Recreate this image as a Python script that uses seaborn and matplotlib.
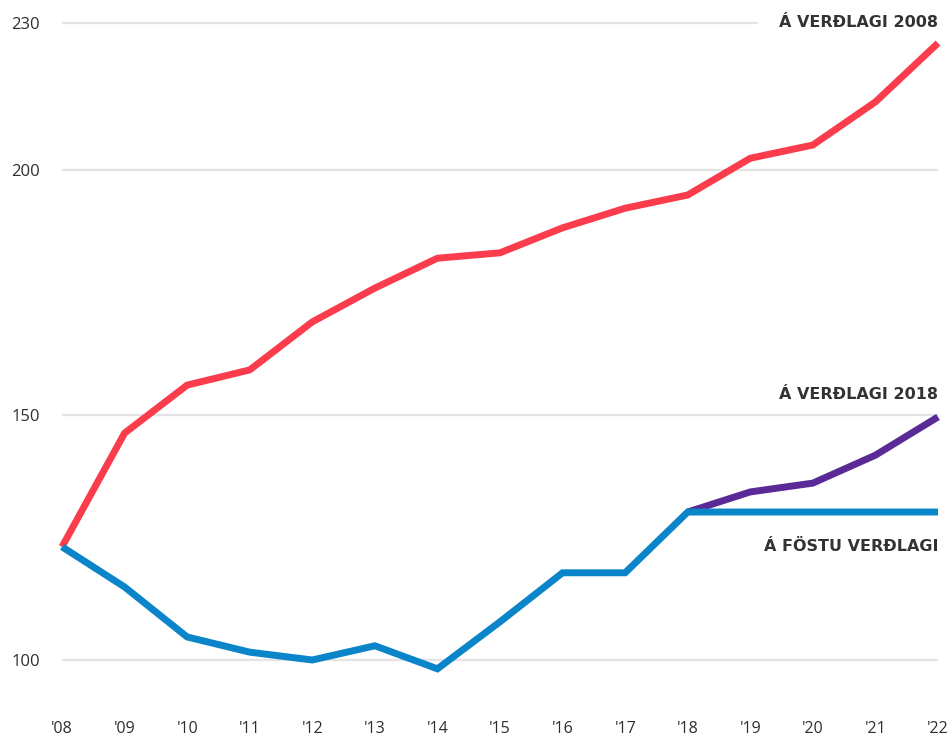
import pandas as pd
import matplotlib.pyplot as plt
import seaborn as sns

years = list(range(2008, 2023))
tick_labels = ["'08", "'09", "'10", "'11", "'12", "'13", "'14", "'15",
               "'16", "'17", "'18", "'19", "'20", "'21", "'22"]

# index values
verdlag_2008 = [123.1, 146.3, 156.1, 159.2, 169.0, 175.9, 182.0, 183.1,
                188.2, 192.2, 194.9, 202.4, 205.1, 213.9, 225.9]
fast_verdlag = [123.1, 114.9, 104.7, 101.6, 100.0, 102.9, 98.2, 107.8,
                117.8, 117.8, 130.2, 130.2, 130.2, 130.2, 130.2]
verdlag_2018_years = [2018, 2019, 2020, 2021, 2022]
verdlag_2018 = [130.2, 134.3, 136.1, 141.8, 149.6]

series_names = ["Á VERÐLAGI 2008", "Á VERÐLAGI 2018", "Á FÖSTU VERÐLAGI"]
colors = {"Á VERÐLAGI 2008": "#fb3c4c",
          "Á VERÐLAGI 2018": "#5a2a96",
          "Á FÖSTU VERÐLAGI": "#0a85c9"}

df = pd.concat([
    pd.DataFrame({"ar": years, "gildi": verdlag_2008, "rod": series_names[0]}),
    pd.DataFrame({"ar": verdlag_2018_years, "gildi": verdlag_2018, "rod": series_names[1]}),
    pd.DataFrame({"ar": years, "gildi": fast_verdlag, "rod": series_names[2]}),
])

sns.set_style("white")
plt.rcParams["font.family"] = ["Open Sans", "DejaVu Sans"]

fig = plt.figure(figsize=(9.53, 7.42), dpi=100)
ax = fig.add_axes([62 / 953, 0.0775, 876 / 953, 0.9047])

# gridlines first so lines sit on top
for v in [100, 150, 200]:
    ax.axhline(v, color="#e3e3e3", lw=1.6, zorder=0)
ax.axhline(230, xmax=0.793, color="#e3e3e3", lw=1.6, zorder=0)

sns.lineplot(data=df, x="ar", y="gildi", hue="rod", palette=colors,
             hue_order=series_names, linewidth=5, legend=False, ax=ax,
             clip_on=False, solid_capstyle="butt", solid_joinstyle="miter")

ax.set_xlim(2008, 2022)
ax.set_ylim(95, 232)
ax.set_xticks(years)
ax.set_xticklabels(tick_labels)
ax.set_yticks([100, 150, 200, 230])
ax.tick_params(axis="x", length=0, pad=26, labelsize=11.5, labelcolor="#2e2e2e")
ax.tick_params(axis="y", length=0, pad=16, labelsize=12, labelcolor="#2e2e2e")
ax.set_xlabel("")
ax.set_ylabel("")
sns.despine(left=True, bottom=True)

lab_kw = dict(ha="right", va="center", fontsize=11.5, fontweight="bold",
              color="#333333", family="DejaVu Sans")
ax.text(2022, 230.2, "Á VERÐLAGI 2008", **lab_kw)
ax.text(2022, 154.1, "Á VERÐLAGI 2018", **lab_kw)
ax.text(2022, 123.1, "Á FÖSTU VERÐLAGI", **lab_kw)

fig.savefig("out.png", dpi=100)
